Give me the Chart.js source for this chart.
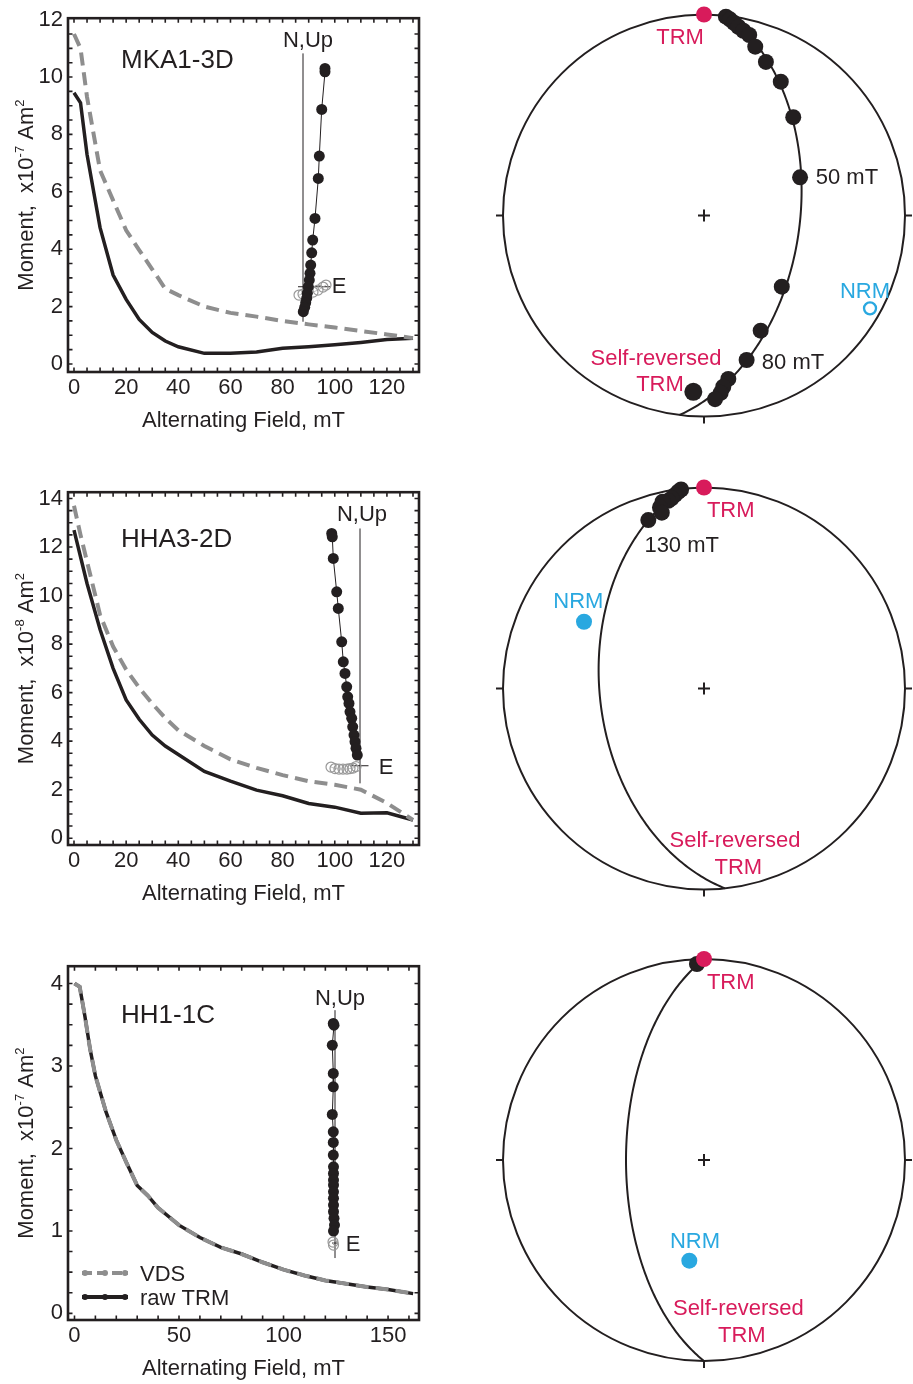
<!DOCTYPE html>
<html><head><meta charset="utf-8">
<script src="https://cdn.jsdelivr.net/npm/chart.js@4.4.1/dist/chart.umd.min.js"></script>
<style>
html,body{margin:0;padding:0;background:#fff;width:913px;height:1384px;overflow:hidden;position:relative}
canvas{position:absolute;display:block}
</style></head><body>
<canvas id="d1" style="left:0;top:0" width="440" height="440"></canvas>
<canvas id="d2" style="left:0;top:474px" width="440" height="439"></canvas>
<canvas id="d3" style="left:0;top:948px" width="440" height="440"></canvas>
<canvas id="n1" style="left:473px;top:0" width="440" height="440"></canvas>
<canvas id="n2" style="left:473px;top:470px" width="440" height="440"></canvas>
<canvas id="n3" style="left:473px;top:940px" width="440" height="444"></canvas>
<script>
// ---------------- DATA ----------------
// Panel 1: MKA1-3D (moment x10^-7 Am^2)
const afSteps1 = [0,2.5,5,10,15,20,25,30,35,40,50,60,70,80,90,100,110,120,130];
const vds1     = [11.5,11.0,9.3,6.75,5.7,4.66,3.97,3.3,2.62,2.4,2.0,1.78,1.65,1.5,1.38,1.27,1.15,1.03,0.9];
const rawTrm1  = [9.45,9.1,7.3,4.75,3.1,2.25,1.55,1.1,0.8,0.6,0.37,0.37,0.42,0.55,0.6,0.67,0.75,0.85,0.9];
const zijHorE1 = [2.2,2.2,1.87,1.63,1.53,1.2,0.97,0.87,0.77,0.7,0.63,0.53,0.43,0.37,0.27,0.17,0.03];
const zijHorN1 = [21.84,21.5,17.74,13.07,10.84,6.84,4.67,3.4,2.17,1.34,0.67,0,-0.66,-1.16,-1.6,-2.06,-2.5];
const zijVerE1 = [-0.4,0,0.4,1.0,1.5,2.0,2.3];
const zijVerUp1= [-0.83,-0.73,-0.63,-0.53,-0.33,-0.03,0.17];

// Panel 2: HHA3-2D (moment x10^-8 Am^2)
const afSteps2 = [0,2.5,5,10,15,20,25,30,35,40,50,60,70,80,90,100,110,120,130];
const vds2     = [13.7,12.5,11.4,9.2,7.9,6.95,6.2,5.55,4.95,4.45,3.8,3.25,2.9,2.6,2.35,2.2,2.0,1.45,0.75];
const rawTrm2  = [12.7,11.6,10.5,8.6,7.0,5.7,4.9,4.25,3.8,3.45,2.75,2.35,1.98,1.75,1.43,1.28,1.03,1.05,0.75];
const zijHorE2 = [-2.83,-2.77,-2.67,-2.33,-2.17,-1.83,-1.67,-1.5,-1.33,-1.23,-1.1,-1.0,-0.83,-0.73,-0.6,-0.5,-0.4,-0.27];
const zijHorN2 = [23.24,22.9,20.74,17.4,15.74,12.4,10.4,9.24,7.9,6.9,6.24,5.4,4.74,3.9,3.07,2.4,1.74,1.07];
const zijVerE2 = [-2.9,-2.5,-2.1,-1.7,-1.3,-1.0,-0.7,-0.4];
const zijVerUp2= [-0.13,-0.28,-0.33,-0.33,-0.33,-0.28,-0.23,-0.08];

// Panel 3: HH1-1C (moment x10^-7 Am^2)
const afSteps3 = [0,2.5,5,7.5,10,15,20,25,30,35,40,50,60,70,80,90,100,110,120,130,140,150,162];
const vds3     = [4.0,3.96,3.6,3.2,2.88,2.45,2.1,1.82,1.55,1.43,1.28,1.07,0.92,0.8,0.72,0.62,0.53,0.46,0.4,0.36,0.32,0.29,0.24];
const rawTrm3  = [4.0,3.96,3.6,3.2,2.88,2.45,2.1,1.82,1.55,1.43,1.28,1.07,0.92,0.8,0.72,0.62,0.53,0.46,0.4,0.36,0.32,0.29,0.24];
const zijHorE3 = [-0.17,-0.1,-0.27,-0.17,-0.17,-0.27,-0.17,-0.17,-0.17,-0.15,-0.15,-0.15,-0.15,-0.15,-0.15,-0.15,-0.15,-0.1,-0.05,-0.15];
const zijHorN3 = [21.97,21.8,19.8,16.97,15.63,12.87,11.13,10.07,8.8,7.63,6.97,6.3,5.8,5.13,4.47,3.8,3.13,2.47,1.8,1.2];
const zijVerE3 = [-0.2,-0.15];
const zijVerUp3= [0.1,-0.2];

// Stereonets (equal-area net coordinates, primitive radius = 1)
const net1DemagX = [0.109,0.129,0.149,0.171,0.196,0.225,0.255,0.308,0.382,0.444,0.478,0.387,0.282,0.212,0.121,0.096,0.083,0.055];
const net1DemagY = [0.989,0.976,0.959,0.939,0.919,0.898,0.840,0.764,0.666,0.489,0.190,-0.354,-0.573,-0.719,-0.813,-0.852,-0.882,-0.914];
const net1SelfRevX = [-0.053], net1SelfRevY = [-0.877];
const net2DemagX = [-0.114,-0.128,-0.144,-0.161,-0.178,-0.206,-0.219,-0.210,-0.277];
const net2DemagY = [0.99,0.979,0.963,0.946,0.934,0.929,0.901,0.875,0.838];
const net3DemagX = [-0.035];
const net3DemagY = [0.975];
const trmX = [0, 0, 0], trmY = [1.0, 1.0, 1.0];
const nrmX = [0.826, -0.597, -0.073], nrmY = [-0.462, 0.332, -0.501];
const gcPoleDec = [277, 84, 90], gcPoleInc = [39.5, 43.1, 31.85];

// ---------------- STYLE ----------------
const FONT = '"Liberation Sans", Arial, Helvetica, sans-serif';
const INK = '#231f20';
const RED = '#d81b5b';
const BLUE = '#29a8e0';
const GREY = '#8e8e8e';

function pts(xs, ys){ return xs.map((x,i)=>({x:x, y:ys[i]})); }
function label(ctx, s, x, yc, size, color, align){
  ctx.save(); ctx.font = size+'px '+FONT; ctx.fillStyle = color; ctx.textAlign = align||'center';
  ctx.textBaseline = 'alphabetic'; ctx.fillText(s, x, yc + 0.358*size); ctx.restore();
}

function leftPanel(id, p){
  const deco = {
    id: 'deco',
    beforeDatasetsDraw(chart){
      const ctx = chart.ctx, zx = chart.scales.zx, zy = chart.scales.zy;
      ctx.save(); ctx.strokeStyle = INK; ctx.lineWidth = 1;
      const ax = zx.getPixelForValue(0), ay = zy.getPixelForValue(0);
      ctx.beginPath();
      ctx.moveTo(ax, zy.getPixelForValue(p.upAxis[0])); ctx.lineTo(ax, zy.getPixelForValue(p.upAxis[1]));
      ctx.moveTo(zx.getPixelForValue(p.eAxis[0]), ay); ctx.lineTo(zx.getPixelForValue(p.eAxis[1]), ay);
      ctx.stroke(); ctx.restore();
    },
    afterDraw(chart){
      const ctx = chart.ctx, a = chart.chartArea, xs = chart.scales.x, ys = chart.scales.y;
      const zx = chart.scales.zx, zy = chart.scales.zy;
      ctx.save();
      ctx.strokeStyle = INK; ctx.lineWidth = 1.6; ctx.beginPath();
      for (let k = Math.ceil(xs.min/p.xMinor); k*p.xMinor <= xs.max; k++){
        const px = xs.getPixelForValue(k*p.xMinor);
        if (px < a.left+3 || px > a.right-3) continue;
        ctx.moveTo(px, a.bottom); ctx.lineTo(px, a.bottom-4.5);
        ctx.moveTo(px, a.top); ctx.lineTo(px, a.top+4.5);
      }
      for (let k = Math.ceil(ys.min/p.yMinor); k*p.yMinor <= ys.max; k++){
        const py = ys.getPixelForValue(k*p.yMinor);
        if (py < a.top+3 || py > a.bottom-3) continue;
        ctx.moveTo(a.left, py); ctx.lineTo(a.left+4.5, py);
        ctx.moveTo(a.right, py); ctx.lineTo(a.right-4.5, py);
      }
      ctx.stroke();
      ctx.lineWidth = 2.6; ctx.strokeRect(a.left, a.top, a.right-a.left, a.bottom-a.top);
      // y-axis title with superscripts
      const cx = a.left - 43, cy = (a.top + a.bottom)/2;
      const big = '22px '+FONT, small = '13px '+FONT;
      const parts = [['Moment,  x10', big, 0], [p.exp, small, -9], [' Am', big, 0], ['2', small, -9]];
      ctx.translate(cx, cy); ctx.rotate(-Math.PI/2);
      let w = 0; parts.forEach(q => { ctx.font = q[1]; w += ctx.measureText(q[0]).width; });
      let x = -w/2; ctx.fillStyle = INK; ctx.textBaseline = 'alphabetic'; ctx.textAlign = 'left';
      parts.forEach(q => { ctx.font = q[1]; ctx.fillText(q[0], x, 8 + q[2]); x += ctx.measureText(q[0]).width; });
      ctx.setTransform(1,0,0,1,0,0);
      // sample name
      label(ctx, p.name, a.left + 53, a.top + p.nameDy, 26, INK, 'left');
      // Zijderveld axis labels
      label(ctx, 'N,Up', zx.getPixelForValue(p.nLab[0]), zy.getPixelForValue(p.nLab[1]), 22, INK, 'center');
      label(ctx, 'E', zx.getPixelForValue(p.eLab[0]), zy.getPixelForValue(p.eLab[1]), 22, INK, 'center');
      if (p.legend){
        const x0 = a.left + 14, x1 = a.left + 60;
        const y1 = a.bottom - 47, y2 = a.bottom - 23;
        ctx.lineWidth = 4;
        ctx.strokeStyle = GREY; ctx.setLineDash([10,5]);
        ctx.beginPath(); ctx.moveTo(x0, y1); ctx.lineTo(x1, y1); ctx.stroke();
        ctx.setLineDash([]);
        ctx.strokeStyle = INK; ctx.beginPath(); ctx.moveTo(x0, y2); ctx.lineTo(x1, y2); ctx.stroke();
        [[GREY,y1],[INK,y2]].forEach(c => { ctx.fillStyle = c[0]; [x0+3,(x0+x1)/2,x1-3].forEach(xx => { ctx.beginPath(); ctx.arc(xx, c[1], 3, 0, 2*Math.PI); ctx.fill(); }); });
        label(ctx, 'VDS', a.left + 72, y1, 22, INK, 'left');
        label(ctx, 'raw TRM', a.left + 72, y2, 22, INK, 'left');
      }
      ctx.restore();
    }
  };
  const tickFont = {family: FONT, size: 22};
  return new Chart(document.getElementById(id), {
    type: 'scatter',
    data: { datasets: [
      { label:'zijH', data: pts(p.zhE, p.zhN), xAxisID:'zx', yAxisID:'zy', showLine:true,
        borderColor: INK, borderWidth: 1, pointRadius: 5.5, pointBackgroundColor: INK, pointBorderWidth: 0 },
      { label:'zijV', data: pts(p.zvE, p.zvU), xAxisID:'zx', yAxisID:'zy', showLine:true,
        borderColor: '#b0b0b0', borderWidth: 0.8, pointRadius: 5, pointBackgroundColor: 'rgba(255,255,255,0)',
        pointBorderColor: '#999999', pointBorderWidth: 1.2 },
      { label:'VDS', data: pts(p.steps, p.vds), xAxisID:'x', yAxisID:'y', showLine:true,
        borderColor: GREY, borderWidth: 4, borderDash: [13,7], pointRadius: 0 },
      { label:'raw TRM', data: pts(p.steps, p.raw), xAxisID:'x', yAxisID:'y', showLine:true,
        borderColor: INK, borderWidth: 3.5, pointRadius: 0 }
    ]},
    options: {
      responsive: false, animation: false, devicePixelRatio: 1,
      layout: { autoPadding: false, padding: { top: 18, right: 21, left: 0, bottom: 0 } },
      plugins: { legend: { display: false }, tooltip: { enabled: false } },
      scales: {
        x: { type:'linear', position:'bottom', min: p.xMin, max: p.xMax,
             afterFit(s){ s.height = 68; },
             grid: { display:false, drawTicks:false }, border: { display:false },
             ticks: { stepSize: p.xStep, includeBounds:false, font: tickFont, color: INK, padding: 3, maxRotation:0, autoSkip:false },
             title: { display:true, text:'Alternating Field, mT', font: tickFont, color: INK, padding: {top:0, bottom:6} } },
        y: { type:'linear', position:'left', min: p.yMin, max: p.yMax,
             afterFit(s){ s.width = 68; },
             grid: { display:false, drawTicks:false }, border: { display:false },
             ticks: { stepSize: p.yStep, includeBounds:false, font: tickFont, color: INK, padding: 5, autoSkip:false } },
        zx: { type:'linear', display:false, min: p.zxR[0], max: p.zxR[1] },
        zy: { type:'linear', display:false, position:'left', min: p.zyR[0], max: p.zyR[1] }
      }
    },
    plugins: [deco]
  });
}

leftPanel('d1', { steps: afSteps1, vds: vds1, raw: rawTrm1, zhE: zijHorE1, zhN: zijHorN1, zvE: zijVerE1, zvU: zijVerUp1,
  xMin: -2.3, xMax: 132.3, yMin: -0.28, yMax: 12.05, xStep: 20, yStep: 2, xMinor: 5, yMinor: 0.5,
  zxR: [-23.5, 11.6], zyR: [-8.53, 26.87], upAxis: [-3.5, 23.35], eAxis: [-0.5, 2.7],
  nLab: [0.5, 24.77], eLab: [3.6, 0.17], name: 'MKA1-3D', nameDy: 40, exp: '-7' });
leftPanel('d2', { steps: afSteps2, vds: vds2, raw: rawTrm2, zhE: zijHorE2, zhN: zijHorN2, zvE: zijVerE2, zvU: zijVerUp2,
  xMin: -2.3, xMax: 132.3, yMin: -0.28, yMax: 14.26, xStep: 20, yStep: 2, xMinor: 5, yMinor: 0.5,
  zxR: [-29.2, 5.9], zyR: [-7.93, 27.37], upAxis: [-1.76, 23.74], eAxis: [-1.0, 0.85],
  nLab: [0.2, 25.27], eLab: [2.6, -0.03], name: 'HHA3-2D', nameDy: 45, exp: '-8' });
leftPanel('d3', { steps: afSteps3, vds: vds3, raw: rawTrm3, zhE: zijHorE3, zhN: zijHorN3, zvE: zijVerE3, zvU: zijVerUp3,
  xMin: -3.1, xMax: 164.8, yMin: -0.08, yMax: 4.21, xStep: 50, yStep: 1, xMinor: 10, yMinor: 0.25,
  zxR: [-26.7, 8.4], zyR: [-7.7, 27.7], upAxis: [-1.5, 23.3], eAxis: [-0.3, 0.3],
  nLab: [0.5, 24.6], eLab: [1.8, 0], name: 'HH1-1C', nameDy: 47, exp: '-7', legend: true });

// ---------------- STEREONETS ----------------
function greatCircle(dec, inc, n){
  const d2r = Math.PI/180;
  const p = [Math.cos(inc*d2r)*Math.cos(dec*d2r), Math.cos(inc*d2r)*Math.sin(dec*d2r), Math.sin(inc*d2r)];
  const s = [Math.cos((dec+90)*d2r), Math.sin((dec+90)*d2r), 0];
  let d = [s[1]*p[2]-s[2]*p[1], s[2]*p[0]-s[0]*p[2], s[0]*p[1]-s[1]*p[0]];
  if (d[2] < 0) d = d.map(v => -v);
  const out = [];
  for (let i = 0; i <= n; i++){
    const t = Math.PI*i/n;
    const v = [0,1,2].map(j => Math.cos(t)*s[j] + Math.sin(t)*d[j]);
    const f = 1/Math.sqrt(1 + Math.max(0, v[2]));
    out.push([v[1]*f, v[0]*f]);
  }
  return out;
}

function net(id, q){
  const deco = {
    id: 'netdeco',
    beforeDatasetsDraw(chart){
      const ctx = chart.ctx, xs = chart.scales.x, ys = chart.scales.y;
      const cx = xs.getPixelForValue(0), cy = ys.getPixelForValue(0);
      const r = xs.getPixelForValue(1) - cx;
      ctx.save(); ctx.strokeStyle = INK; ctx.lineWidth = 2;
      ctx.beginPath(); ctx.arc(cx, cy, r, 0, 2*Math.PI); ctx.stroke();
      ctx.beginPath();
      ctx.moveTo(cx - r - 7, cy); ctx.lineTo(cx - r, cy);
      ctx.moveTo(cx + r, cy); ctx.lineTo(cx + r + 7, cy);
      ctx.moveTo(cx, cy + r); ctx.lineTo(cx, cy + r + 7);
      ctx.moveTo(cx, cy - r); ctx.lineTo(cx, cy - r - 7);
      ctx.moveTo(cx - 6, cy); ctx.lineTo(cx + 6, cy);
      ctx.moveTo(cx, cy - 6); ctx.lineTo(cx, cy + 6);
      ctx.stroke();
      const gc = greatCircle(q.poleDec, q.poleInc, 180);
      ctx.beginPath();
      gc.forEach((g, i) => { const px = xs.getPixelForValue(g[0]), py = ys.getPixelForValue(g[1]); if (i) ctx.lineTo(px, py); else ctx.moveTo(px, py); });
      ctx.stroke();
      ctx.restore();
    },
    afterDatasetsDraw(chart){
      const ctx = chart.ctx, xs = chart.scales.x, ys = chart.scales.y;
      q.labels.forEach(l => label(ctx, l[0], xs.getPixelForValue(l[1]), ys.getPixelForValue(l[2]), 22, l[3], 'center'));
    }
  };
  const sets = [
    { data: pts(q.trmX, q.trmY), pointRadius: 8, pointBackgroundColor: RED, pointBorderWidth: 0 },
    q.nrmOpen
      ? { data: pts(q.nrmX, q.nrmY), pointRadius: 6, pointBackgroundColor: 'rgba(255,255,255,0)', pointBorderColor: BLUE, pointBorderWidth: 2.3 }
      : { data: pts(q.nrmX, q.nrmY), pointRadius: 8, pointBackgroundColor: BLUE, pointBorderWidth: 0 },
    { data: pts(q.demX, q.demY), pointRadius: 8, pointBackgroundColor: INK, pointBorderWidth: 0 }
  ];
  if (q.srX) sets.push({ data: pts(q.srX, q.srY), pointRadius: 9, pointBackgroundColor: INK, pointBorderWidth: 0 });
  const R = 201;
  return new Chart(document.getElementById(id), {
    type: 'scatter',
    data: { datasets: sets },
    options: {
      responsive: false, animation: false, devicePixelRatio: 1,
      layout: { autoPadding: false, padding: 0 },
      plugins: { legend: { display:false }, tooltip: { enabled:false } },
      scales: {
        x: { type:'linear', display:false, min: -q.cx/R, max: (q.w - q.cx)/R },
        y: { type:'linear', display:false, min: -(q.h - q.cy)/R, max: q.cy/R }
      }
    },
    plugins: [deco]
  });
}

net('n1', { cx: 231, cy: 215.5, w: 440, h: 440,
  trmX: [trmX[0]], trmY: [trmY[0]], nrmX: [nrmX[0]], nrmY: [nrmY[0]], nrmOpen: true,
  demX: net1DemagX, demY: net1DemagY, srX: net1SelfRevX, srY: net1SelfRevY,
  poleDec: gcPoleDec[0], poleInc: gcPoleInc[0],
  labels: [['TRM', -0.119, 0.890, RED], ['50 mT', 0.711, 0.197, INK], ['NRM', 0.801, -0.371, BLUE],
           ['Self-reversed', -0.239, -0.707, RED], ['TRM', -0.219, -0.835, RED], ['80 mT', 0.443, -0.724, INK]] });
net('n2', { cx: 231, cy: 218.5, w: 440, h: 440,
  trmX: [trmX[1]], trmY: [trmY[1]], nrmX: [nrmX[1]], nrmY: [nrmY[1]], nrmOpen: false,
  demX: net2DemagX, demY: net2DemagY,
  poleDec: gcPoleDec[1], poleInc: gcPoleInc[1],
  labels: [['TRM', 0.133, 0.892, RED], ['130 mT', -0.111, 0.719, INK], ['NRM', -0.625, 0.440, BLUE],
           ['Self-reversed', 0.154, -0.750, RED], ['TRM', 0.171, -0.883, RED]] });
net('n3', { cx: 231, cy: 220, w: 440, h: 444,
  trmX: [trmX[2]], trmY: [trmY[2]], nrmX: [nrmX[2]], nrmY: [nrmY[2]], nrmOpen: false,
  demX: net3DemagX, demY: net3DemagY,
  poleDec: gcPoleDec[2], poleInc: gcPoleInc[2],
  labels: [['TRM', 0.133, 0.892, RED], ['NRM', -0.045, -0.398, BLUE],
           ['Self-reversed', 0.171, -0.730, RED], ['TRM', 0.188, -0.866, RED]] });
</script>
</body></html>
